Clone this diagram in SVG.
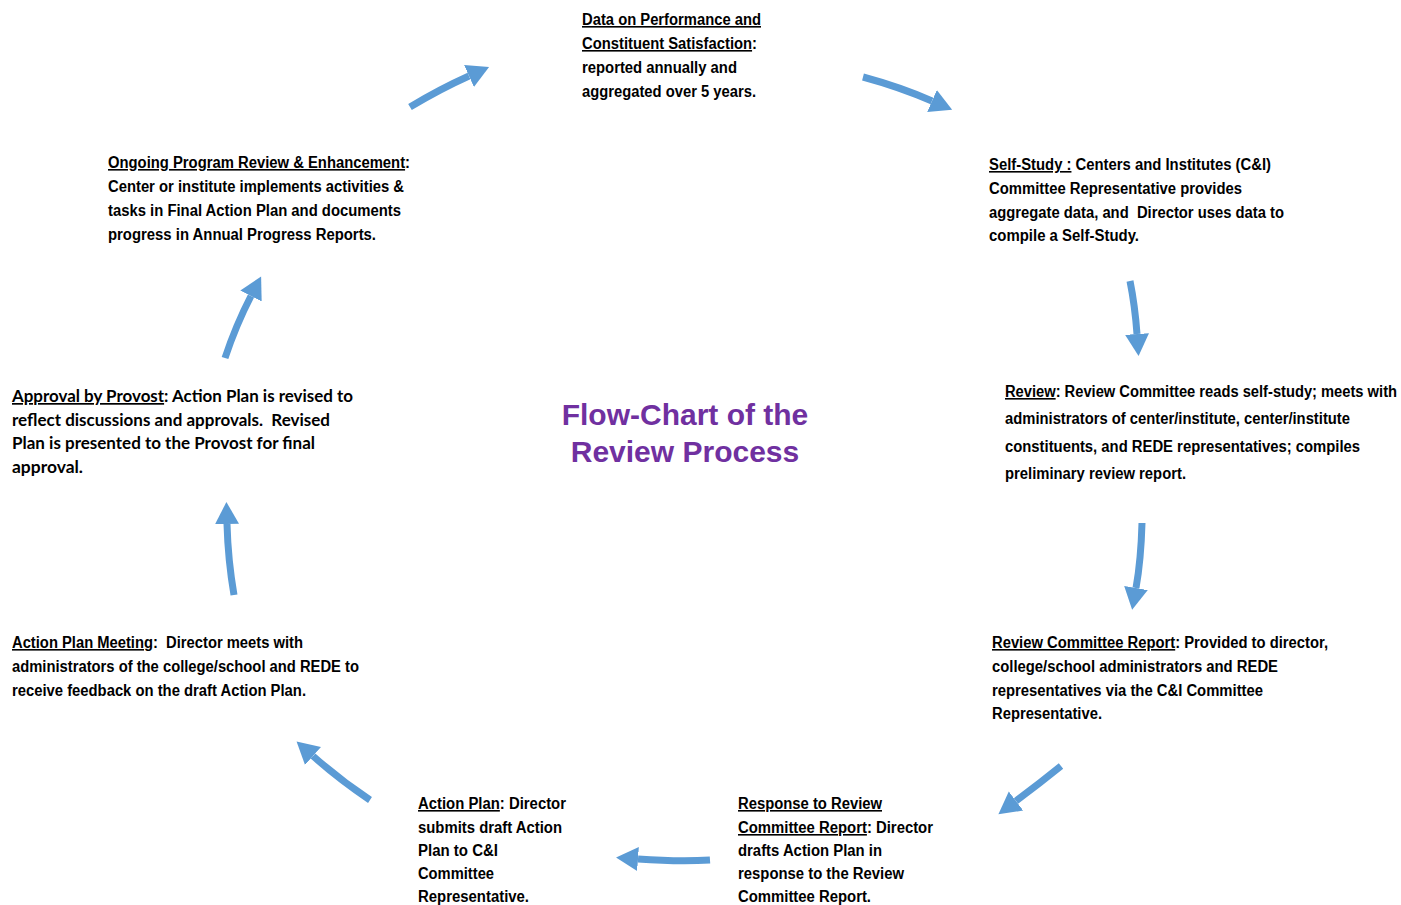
<svg xmlns="http://www.w3.org/2000/svg" width="1401" height="905" viewBox="0 0 1401 905">
<style>
.t{font-family:"Liberation Sans",Arial,sans-serif;font-weight:bold;font-size:16px;fill:#000}
.c{font-family:Lato,"Liberation Sans",sans-serif;font-weight:bold;font-size:17px;fill:#000}
.u{text-decoration:underline}
.title{font-family:"Liberation Sans",Arial,sans-serif;font-weight:bold;font-size:30px;fill:#7030A0;text-anchor:middle}
.a{fill:none;stroke:#5B9BD5;stroke-width:7;marker-end:url(#h)}
</style>
<defs>
<marker id="h" markerUnits="userSpaceOnUse" markerWidth="30" markerHeight="30" refX="0" refY="12" orient="auto" viewBox="0 0 30 24">
<path d="M0,0 L22,12 L0,24 z" fill="#5B9BD5"/>
</marker>
</defs>
<rect width="1401" height="905" fill="#fff"/>
<g id="title">
<text class="title" x="685" y="425">Flow-Chart of the</text>
<text class="title" x="685" y="462">Review Process</text>
</g>
<g id="node-data">
<text class="t" x="582" y="25" textLength="179" lengthAdjust="spacingAndGlyphs"><tspan class="u">Data on Performance and</tspan></text>
<text class="t" x="582" y="49" textLength="175" lengthAdjust="spacingAndGlyphs"><tspan class="u">Constituent Satisfaction</tspan>:</text>
<text class="t" x="582" y="73" textLength="155" lengthAdjust="spacingAndGlyphs">reported annually and</text>
<text class="t" x="582" y="97" textLength="174" lengthAdjust="spacingAndGlyphs">aggregated over 5 years.</text>
</g>
<g id="node-selfstudy">
<text class="t" x="989" y="170" textLength="282" lengthAdjust="spacingAndGlyphs"><tspan class="u">Self-Study :</tspan> Centers and Institutes (C&amp;I)</text>
<text class="t" x="989" y="194" textLength="253" lengthAdjust="spacingAndGlyphs">Committee Representative provides</text>
<text class="t" x="989" y="218" textLength="295" lengthAdjust="spacingAndGlyphs" xml:space="preserve">aggregate data, and  Director uses data to</text>
<text class="t" x="989" y="241" textLength="150" lengthAdjust="spacingAndGlyphs">compile a Self-Study.</text>
</g>
<g id="node-review">
<text class="t" x="1005" y="397" textLength="392" lengthAdjust="spacingAndGlyphs"><tspan class="u">Review</tspan>: Review Committee reads self-study; meets with</text>
<text class="t" x="1005" y="424" textLength="345" lengthAdjust="spacingAndGlyphs">administrators of center/institute, center/institute</text>
<text class="t" x="1005" y="452" textLength="355" lengthAdjust="spacingAndGlyphs">constituents, and REDE representatives; compiles</text>
<text class="t" x="1005" y="479" textLength="181" lengthAdjust="spacingAndGlyphs">preliminary review report.</text>
</g>
<g id="node-rcreport">
<text class="t" x="992" y="648" textLength="336" lengthAdjust="spacingAndGlyphs"><tspan class="u">Review Committee Report</tspan>: Provided to director,</text>
<text class="t" x="992" y="672" textLength="286" lengthAdjust="spacingAndGlyphs">college/school administrators and REDE</text>
<text class="t" x="992" y="696" textLength="271" lengthAdjust="spacingAndGlyphs">representatives via the C&amp;I Committee</text>
<text class="t" x="992" y="719" textLength="110" lengthAdjust="spacingAndGlyphs">Representative.</text>
</g>
<g id="node-response">
<text class="t" x="738" y="809" textLength="144" lengthAdjust="spacingAndGlyphs"><tspan class="u">Response to Review</tspan></text>
<text class="t" x="738" y="833" textLength="195" lengthAdjust="spacingAndGlyphs"><tspan class="u">Committee Report</tspan>: Director</text>
<text class="t" x="738" y="856" textLength="144" lengthAdjust="spacingAndGlyphs">drafts Action Plan in</text>
<text class="t" x="738" y="879" textLength="166" lengthAdjust="spacingAndGlyphs">response to the Review</text>
<text class="t" x="738" y="902" textLength="133" lengthAdjust="spacingAndGlyphs">Committee Report.</text>
</g>
<g id="node-actionplan">
<text class="t" x="418" y="809" textLength="148" lengthAdjust="spacingAndGlyphs"><tspan class="u">Action Plan</tspan>: Director</text>
<text class="t" x="418" y="833" textLength="144" lengthAdjust="spacingAndGlyphs">submits draft Action</text>
<text class="t" x="418" y="856" textLength="80" lengthAdjust="spacingAndGlyphs">Plan to C&amp;I</text>
<text class="t" x="418" y="879" textLength="76" lengthAdjust="spacingAndGlyphs">Committee</text>
<text class="t" x="418" y="902" textLength="111" lengthAdjust="spacingAndGlyphs">Representative.</text>
</g>
<g id="node-meeting">
<text class="t" x="12" y="648" textLength="291" lengthAdjust="spacingAndGlyphs" xml:space="preserve"><tspan class="u">Action Plan Meeting</tspan>:  Director meets with</text>
<text class="t" x="12" y="672" textLength="347" lengthAdjust="spacingAndGlyphs">administrators of the college/school and REDE to</text>
<text class="t" x="12" y="696" textLength="294" lengthAdjust="spacingAndGlyphs">receive feedback on the draft Action Plan.</text>
</g>
<g id="node-approval">
<text class="c" x="12" y="402" textLength="341" lengthAdjust="spacingAndGlyphs"><tspan class="u">Approval by Provost</tspan>: Action Plan is revised to</text>
<text class="c" x="12" y="426" textLength="318" lengthAdjust="spacingAndGlyphs" xml:space="preserve">reflect discussions and approvals.  Revised</text>
<text class="c" x="12" y="449" textLength="303" lengthAdjust="spacingAndGlyphs">Plan is presented to the Provost for final</text>
<text class="c" x="12" y="473" textLength="71" lengthAdjust="spacingAndGlyphs">approval.</text>
</g>
<g id="node-ongoing">
<text class="t" x="108" y="168" textLength="302" lengthAdjust="spacingAndGlyphs"><tspan class="u">Ongoing Program Review &amp; Enhancement</tspan>:</text>
<text class="t" x="108" y="192" textLength="296" lengthAdjust="spacingAndGlyphs">Center or institute implements activities &amp;</text>
<text class="t" x="108" y="216" textLength="293" lengthAdjust="spacingAndGlyphs">tasks in Final Action Plan and documents</text>
<text class="t" x="108" y="240" textLength="268" lengthAdjust="spacingAndGlyphs">progress in Annual Progress Reports.</text>
</g>
<g id="connectors">
<path class="a" d="M410,107 Q440,89 469,76"/>
<path class="a" d="M863,77 Q900,87 932,101"/>
<path class="a" d="M1130,281 Q1135,306 1137,334"/>
<path class="a" d="M1142,523 Q1141,560 1136,588"/>
<path class="a" d="M1061,766 Q1040,783 1016,801"/>
<path class="a" d="M710,860 Q680,862 638,859"/>
<path class="a" d="M370,800 Q340,780 313,756"/>
<path class="a" d="M234,595 Q228,560 227,524"/>
<path class="a" d="M225,358 Q236,325 251,296"/>
</g>
</svg>
